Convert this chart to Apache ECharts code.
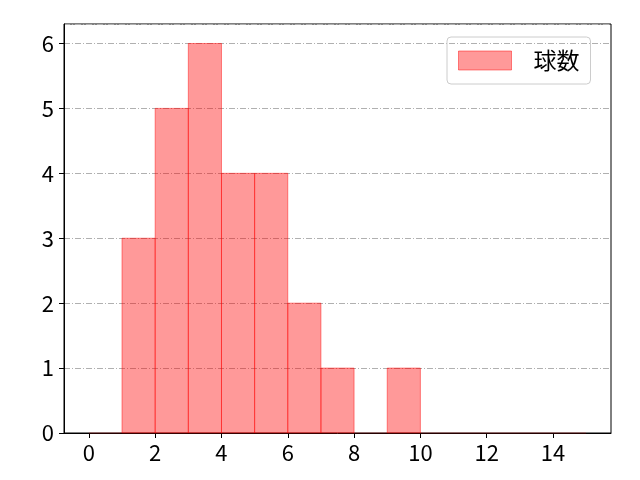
<!DOCTYPE html>
<html>
<head>
<meta charset="utf-8">
<script src="https://cdn.jsdelivr.net/npm/echarts@6/dist/echarts.min.js"></script>
<style>
  html, body { margin: 0; padding: 0; background: #fff; }
  #chart { width: 640px; height: 480px; }
</style>
</head>
<body>
<div id="chart"></div>
<script>
// 球数のヒストグラム (ビン幅 1)
var binStarts = [0, 1, 2, 3, 4, 5, 6, 7, 8, 9, 10, 11, 12, 13, 14];
var counts = [0, 3, 5, 6, 4, 4, 2, 1, 0, 1, 0, 0, 0, 0, 0];
var xTicks = [0, 2, 4, 6, 8, 10, 12, 14];
var seriesName = '球数';

var font = '"Noto Sans CJK JP", "Noto Sans", sans-serif';
var chart = echarts.init(document.getElementById('chart'));

var data = [];
for (var i = 0; i < binStarts.length; i++) {
    data.push([binStarts[i], binStarts[i] + 1, counts[i]]);
}

var option = {
    animation: false,
    backgroundColor: '#fff',
    grid: {
        left: 64, right: 29, top: 24, bottom: 47,
        show: true, borderColor: '#000', borderWidth: 1
    },
    legend: {
        left: 447, top: 37,
        padding: [12, 11, 12, 11],
        borderColor: '#cccccc', borderWidth: 1, borderRadius: 4,
        itemWidth: 53, itemHeight: 19,
        icon: 'rect',
        textStyle: { fontFamily: font, fontSize: 23, color: '#000', padding: [0, 0, 0, 17] },
        data: [{ name: seriesName, itemStyle: { color: '#ff9999', borderColor: 'rgba(255,0,0,0.45)', borderWidth: 1 } }]
    },
    xAxis: {
        type: 'value', min: -0.75, max: 15.75,
        axisLine: { show: true, onZero: false, lineStyle: { color: '#000' } },
        axisTick: { show: true, length: 5, customValues: xTicks, lineStyle: { color: '#000' } },
        axisLabel: { customValues: xTicks, margin: 9, fontFamily: font, fontSize: 22, color: '#000' },
        splitLine: { show: false }
    },
    yAxis: {
        type: 'value', min: 0, max: 6.3, interval: 1,
        axisLine: { show: true, onZero: false, lineStyle: { color: '#000' } },
        axisTick: { show: true, length: 5, lineStyle: { color: '#000' } },
        axisLabel: { showMaxLabel: false, margin: 10, fontFamily: font, fontSize: 22, color: '#000' },
        splitLine: { show: true, lineStyle: { color: '#b0b0b0', width: 1, type: [6, 2, 1, 2] } }
    },
    series: [{
        name: seriesName,
        type: 'custom',
        renderItem: function (params, api) {
            var v = api.value(2);
            var p0 = api.coord([api.value(0), v]);
            var p1 = api.coord([api.value(1), 0]);
            return {
                type: 'rect',
                shape: { x: p0[0], y: p0[1], width: p1[0] - p0[0], height: p1[1] - p0[1] },
                style: {
                    fill: 'rgba(255,0,0,0.4)',
                    stroke: v > 0 ? 'rgba(255,0,0,0.45)' : 'rgba(255,0,0,0.15)',
                    lineWidth: 1
                }
            };
        },
        encode: { x: [0, 1], y: 2 },
        itemStyle: { color: '#ff9999' },
        data: data
    }]
};
chart.setOption(option);
</script>
</body>
</html>
